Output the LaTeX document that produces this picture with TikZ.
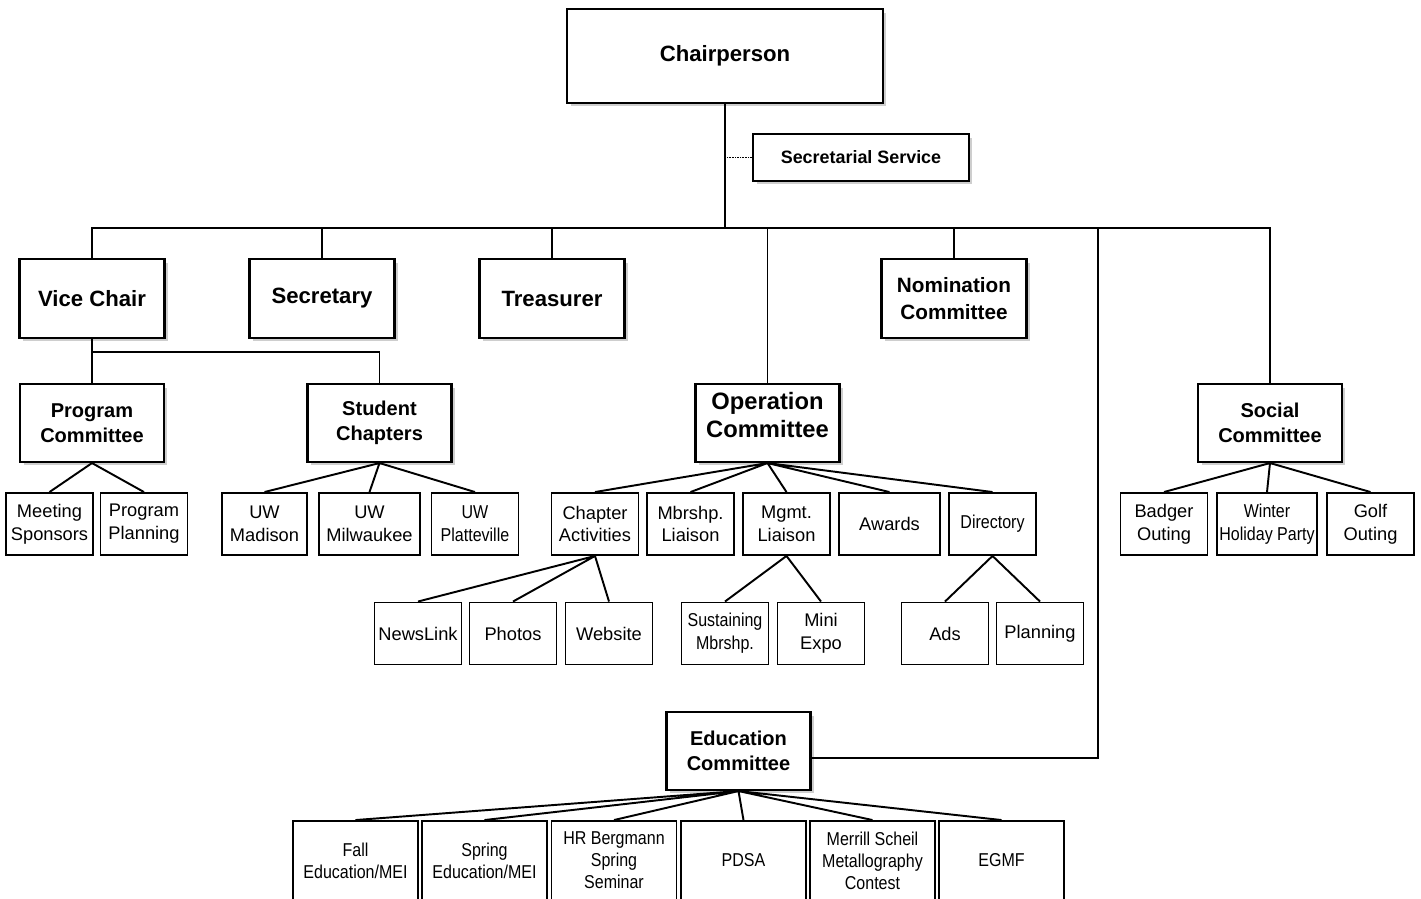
\documentclass[tikz,border=0pt]{standalone}
\usepackage{fontspec}
\setmainfont{Liberation Sans}
\newfontfamily\narrowfont[FakeStretch=0.86]{Liberation Sans}
\usetikzlibrary{shadows}

\tikzset{
  headbox/.style={draw, line width=1.2pt, fill=white, align=center, inner sep=0pt,
    drop shadow={shadow xshift=0.07cm, shadow yshift=-0.07cm, fill=gray!75}},
  officer/.style={headbox, minimum width=2.9cm, minimum height=1.58cm,
    font=\bfseries\fontsize{12.6}{16}\selectfont},
  committee/.style={headbox, minimum width=2.88cm, minimum height=1.56cm,
    font=\bfseries\fontsize{11.4}{14.4}\selectfont},
  leafbox/.style={draw, line width=1.1pt, fill=white, align=center, inner sep=0pt,
    minimum width=1.74cm, minimum height=1.24cm, font=\fontsize{10.4}{13}\selectfont},
  narrowleaf/.style={leafbox, font=\narrowfont\fontsize{10.6}{13}\selectfont},
  eduleaf/.style={leafbox, minimum width=2.5cm, minimum height=1.58cm,
    font=\narrowfont\fontsize{10.6}{12.5}\selectfont},
  link/.style={line width=1.1pt}
}

\begin{document}
\begin{tikzpicture}[x=0.02cm, y=-0.02cm]
    \path[use as bounding box, fill=white] (0,0) rectangle (1421,899);

    % Chair and secretarial service
    \node[headbox, minimum width=6.32cm, minimum height=1.88cm,
        font=\bfseries\fontsize{12.6}{15}\selectfont] (chair) at (725,56) {Chairperson};
    \node[headbox, minimum width=4.32cm, minimum height=0.94cm,
        font=\bfseries\fontsize{10.2}{12}\selectfont] (secsvc) at (861,157.5) {Secretarial Service};

    % Officers
    \node[officer] (vice) at (92,298.5) {Vice Chair};
    \node[officer] (secretary) at (322,298.5) {Secretary};
    \node[officer] (treasurer) at (552,298.5) {Treasurer};
    \node[officer, font=\bfseries\fontsize{11.8}{15.5}\selectfont] (nomination) at (954,298.5)
        {Nomination\\Committee};

    % Committees
    \node[committee] (program) at (92,423) {Program\\Committee};
    \node[committee] (student) at (379.5,423) {Student\\Chapters};
    \node[committee, font=\bfseries\fontsize{13.5}{16}\selectfont] (operation) at (767.5,423)
        {Operation\\Committee\\[-7pt]\mbox{}};
    \node[committee] (social) at (1270,423) {Social\\Committee};
    \node[committee] (education) at (738.5,751) {Education\\Committee};

    % Program committee and student chapters
    \node[leafbox] (meeting) at (49.5,524) {Meeting\\Sponsors};
    \node[leafbox] (progplan) at (144,524) {Program\\Planning};
    \node[leafbox, minimum width=1.7cm] (madison) at (264.5,524) {UW\\Madison};
    \node[leafbox, minimum width=2.02cm] (milwaukee) at (369.5,524) {UW\\Milwaukee};
    \node[narrowleaf] (platteville) at (475,524) {UW\\Platteville};

    % Operation committee
    \node[leafbox] (chapter) at (595,524) {Chapter\\Activities};
    \node[leafbox] (mbrshp) at (690.5,524) {Mbrshp.\\Liaison};
    \node[leafbox] (mgmt) at (786.5,524) {Mgmt.\\Liaison};
    \node[leafbox, minimum width=2.02cm] (awards) at (889.5,524) {Awards};
    \node[narrowleaf] (directory) at (992.5,524) {Directory};
    \node[leafbox] (newslink) at (418,633.5) {NewsLink};
    \node[leafbox] (photos) at (513,633.5) {Photos};
    \node[leafbox] (website) at (609,633.5) {Website};
    \node[narrowleaf] (sustaining) at (725,633.5) {Sustaining\\Mbrshp.};
    \node[leafbox] (miniexpo) at (821,633.5) {Mini\\Expo};
    \node[leafbox] (ads) at (945,633.5) {Ads};
    \node[leafbox] (planning) at (1040,633.5) {Planning};

    % Social committee
    \node[leafbox] (badger) at (1164,524) {Badger\\Outing};
    \node[narrowleaf, minimum width=2cm] (winter) at (1267,524) {Winter\\Holiday Party};
    \node[leafbox] (golf) at (1370.5,524) {Golf\\Outing};

    % Education committee
    \node[eduleaf] (fall) at (355.5,860.5) {Fall\\Education/MEI};
    \node[eduleaf] (spring) at (484.5,860.5) {Spring\\Education/MEI};
    \node[eduleaf] (bergmann) at (614,860.5) {HR Bergmann\\Spring\\Seminar};
    \node[eduleaf] (pdsa) at (743.5,860.5) {PDSA};
    \node[eduleaf] (merrill) at (872.5,860.5) {Merrill Scheil\\Metallography\\Contest};
    \node[eduleaf] (egmf) at (1001.5,860.5) {EGMF};

    % Main bus
    \coordinate (bus) at (725,228);
    \coordinate (edudrop) at (1098,228);
    \draw[link] (chair.south) -- (bus);
    \draw[line width=0.9pt, dash pattern=on 0.9pt off 0.6pt] (secsvc.west) -- (secsvc.west -| bus);
    \draw[link] (vice.north) |- (bus) -| (social.north);
    \draw[link] (secretary.north) -- (secretary.north |- bus);
    \draw[link] (treasurer.north) -- (treasurer.north |- bus);
    \draw[link] (operation.north) -- (operation.north |- bus);
    \draw[link] (nomination.north) -- (nomination.north |- bus);
    \draw[link] (edudrop) |- ([yshift=-0.14cm]education.east);

    % Vice chair branch
    \coordinate (vicebus) at (92,352);
    \draw[link] (vice.south) -- (program.north);
    \draw[link] (vicebus) -| (student.north);
    \draw[link] (program.south) -- (meeting.north) (program.south) -- (progplan.north);
    \draw[link] (student.south) -- (madison.north) (student.south) -- (milwaukee.north)
        (student.south) -- (platteville.north);

    % Operation branch
    \draw[link] (operation.south) -- (chapter.north) (operation.south) -- (mbrshp.north)
        (operation.south) -- (mgmt.north) (operation.south) -- (awards.north)
        (operation.south) -- (directory.north);
    \draw[link] (chapter.south) -- (newslink.north) (chapter.south) -- (photos.north)
        (chapter.south) -- (website.north);
    \draw[link] (mgmt.south) -- (sustaining.north) (mgmt.south) -- (miniexpo.north);
    \draw[link] (directory.south) -- (ads.north) (directory.south) -- (planning.north);

    % Social branch
    \draw[link] (social.south) -- (badger.north) (social.south) -- (winter.north)
        (social.south) -- (golf.north);

    % Education branch
    \draw[link] (education.south) -- (fall.north) (education.south) -- (spring.north)
        (education.south) -- (bergmann.north) (education.south) -- (pdsa.north)
        (education.south) -- (merrill.north) (education.south) -- (egmf.north);
\end{tikzpicture}
\end{document}
